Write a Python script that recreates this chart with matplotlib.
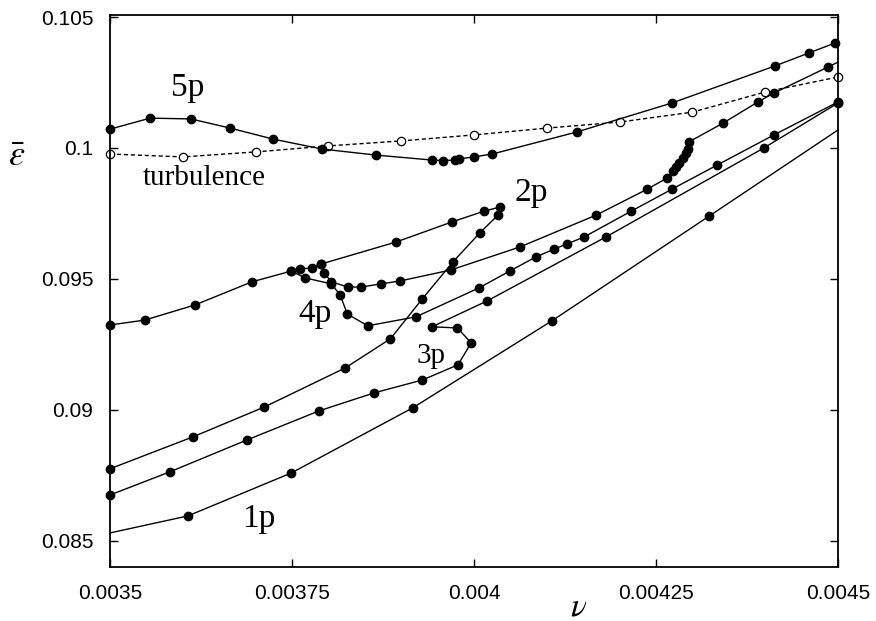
import matplotlib
matplotlib.use("Agg")
import matplotlib.pyplot as plt

plt.rcParams['mathtext.fontset'] = 'stix'

# turbulence (dashed, open circles)
nu_turb = [0.0035, 0.0036, 0.0037, 0.0038, 0.0039, 0.0040, 0.0041, 0.0042, 0.0043, 0.0044, 0.0045]
eps_turb = [0.09977, 0.09966, 0.09985, 0.10008, 0.10027, 0.10050, 0.10076, 0.10099, 0.10137, 0.10214, 0.10271]

# 5p
nu_5p = [0.0035, 0.003555, 0.003611, 0.003665, 0.003724, 0.003791, 0.003865, 0.003942, 0.003957,
         0.003974, 0.003979, 0.004000, 0.004025, 0.004141, 0.004272, 0.004413, 0.004460, 0.004496]
eps_5p = [0.10072, 0.10114, 0.10111, 0.10076, 0.10034, 0.09996, 0.09973, 0.09954, 0.09952,
          0.09954, 0.09958, 0.09966, 0.09977, 0.10061, 0.10172, 0.10313, 0.10363, 0.10401]

# 2p (upper branch to the fold, then lower branch back)
nu_2p = [0.0035, 0.003548, 0.003617, 0.003695, 0.003749, 0.003761, 0.003777, 0.003790, 0.003893,
         0.003970, 0.004014, 0.004036, 0.004033, 0.004008, 0.003971, 0.003929, 0.003885, 0.003823,
         0.003712, 0.003614, 0.0035]
eps_2p = [0.09324, 0.09343, 0.09401, 0.09489, 0.09530, 0.09538, 0.09542, 0.09557, 0.09641,
          0.09718, 0.09759, 0.09775, 0.09744, 0.09676, 0.09565, 0.09424, 0.09271, 0.09160,
          0.09011, 0.08897, 0.08775]

# 4p, upper piece
nu_4pa = [0.003790, 0.003794, 0.003804, 0.003827, 0.003845, 0.003872, 0.003898, 0.003968, 0.004063,
          0.004168, 0.004238, 0.004265, 0.004273, 0.004277, 0.004282, 0.004287, 0.004291, 0.004294,
          0.004295, 0.004342, 0.004390, 0.004412, 0.004486, 0.0045]
eps_4pa = [0.09557, 0.09523, 0.09489, 0.09469, 0.09469, 0.09481, 0.09492, 0.09534, 0.09622,
           0.09744, 0.09843, 0.09885, 0.09912, 0.09927, 0.09943, 0.09962, 0.09981, 0.09996,
           0.10023, 0.10095, 0.10176, 0.10210, 0.10309, 0.10328]

# 4p, lower piece
nu_4pb = [0.003749, 0.003768, 0.003804, 0.003816, 0.003826, 0.003854, 0.003920, 0.004007, 0.004049,
          0.004085, 0.004110, 0.004128, 0.004151, 0.004216, 0.004272, 0.004334, 0.004412, 0.0045]
eps_4pb = [0.09530, 0.09504, 0.09481, 0.09439, 0.09366, 0.09321, 0.09355, 0.09466, 0.09530,
           0.09584, 0.09614, 0.09634, 0.09660, 0.09759, 0.09843, 0.09935, 0.10050, 0.10176]

# 3p
nu_3p = [0.0035, 0.003582, 0.003688, 0.003787, 0.003863, 0.003929, 0.003978, 0.003996, 0.003977,
         0.003942, 0.004018, 0.004181, 0.004398, 0.0045]
eps_3p = [0.08675, 0.08763, 0.08885, 0.08996, 0.09065, 0.09114, 0.09172, 0.09256, 0.09313,
          0.09317, 0.09416, 0.09660, 0.10000, 0.10172]

# 1p
nu_1p = [0.0035, 0.003607, 0.003749, 0.003916, 0.004107, 0.004323, 0.0045]
eps_1p = [0.08530, 0.08595, 0.08759, 0.09008, 0.09340, 0.09740, 0.10069]

xticks = [0.0035, 0.00375, 0.004, 0.00425, 0.0045]
xticklabels = ['0.0035', '0.00375', '0.004', '0.00425', '0.0045']
yticks = [0.085, 0.09, 0.095, 0.1, 0.105]
yticklabels = ['0.085', '0.09', '0.095', '0.1', '0.105']

# label text and anchor (baseline) positions
curve_labels = ['5p', 'turbulence', '2p', '4p', '3p', '1p']
label_nu = [0.003606, 0.003630, 0.004078, 0.003782, 0.003941, 0.003705]
label_eps = [0.10198, 0.09859, 0.09798, 0.09336, 0.09179, 0.08553]
label_size = [24, 21, 24, 24, 21, 24]

fig = plt.figure(figsize=(8.76, 6.21), dpi=100)
ax = fig.add_axes([0.1256, 0.087, 0.8311, 0.8889])

solid = dict(color='black', lw=1.0, marker='o', ms=6, mfc='black', mec='black', clip_on=False)
ax.plot(nu_turb, eps_turb, color='black', lw=1.0, ls=(0, (3, 2)), marker='o', ms=6,
        mfc='white', mec='black', mew=0.9, clip_on=False)
ax.plot(nu_5p, eps_5p, **solid)
ax.plot(nu_2p, eps_2p, **solid)
ax.plot(nu_4pa, eps_4pa, markevery=list(range(len(nu_4pa) - 1)), **solid)
ax.plot(nu_4pb, eps_4pb, **solid)
ax.plot(nu_3p, eps_3p, **solid)
ax.plot(nu_1p, eps_1p, markevery=[1, 2, 3, 4, 5], **solid)

for txt, xx, yy, fs in zip(curve_labels, label_nu, label_eps, label_size):
    ax.text(xx, yy, txt, family='Liberation Serif', fontsize=fs, ha='center', va='baseline')

ax.set_xlim(0.0035, 0.0045)
ax.set_ylim(0.084, 0.10508)
ax.set_xticks(xticks)
ax.set_xticklabels(xticklabels, family='Liberation Sans', fontsize=15)
ax.set_yticks(yticks)
ax.set_yticklabels(yticklabels, family='Liberation Sans', fontsize=15)
ax.tick_params(direction='in', length=6, width=1.0, top=True, right=True, pad=12)

ax.set_xlabel(r'$\nu$', fontsize=24, va='center')
ax.xaxis.set_label_coords(0.644, -0.07)
ax.set_ylabel(r'$\bar{\epsilon}$', fontsize=26, rotation=0, va='center')
ax.yaxis.set_label_coords(-0.128, 0.745)

for s in ax.spines.values():
    s.set_linewidth(1.3)

fig.savefig('out.png', dpi=100)
